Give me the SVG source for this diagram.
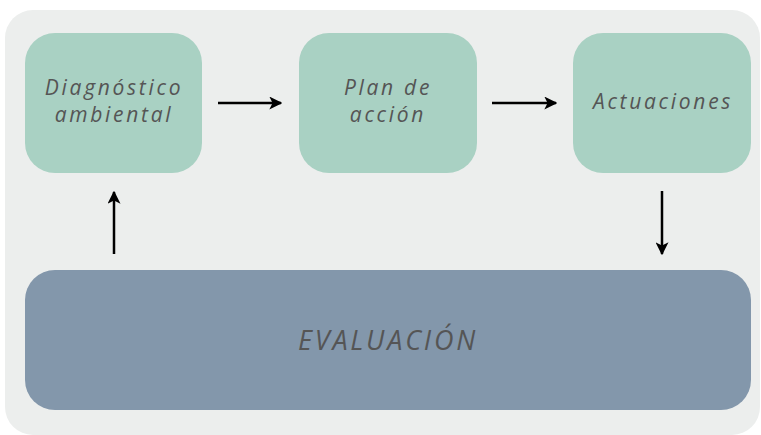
<svg xmlns="http://www.w3.org/2000/svg" width="761" height="435" viewBox="0 0 761 435">
<style>
.box{fill:#a9d1c3}
.lbl{font-family:"Open Sans","Liberation Sans",sans-serif;font-style:italic;fill:#555;font-size:21px;letter-spacing:2.7px;text-anchor:middle}
.ev{font-family:"Open Sans","Liberation Sans",sans-serif;font-style:italic;fill:#555;font-size:27px;letter-spacing:2.8px;text-anchor:middle}
.con{stroke:#000;stroke-width:2.5;fill:none;marker-end:url(#ah)}
</style>
<defs>
<marker id="ah" viewBox="0 0 10 10" refX="9" refY="5" markerWidth="5.2" markerHeight="5.2" orient="auto" markerUnits="strokeWidth">
<path d="M0,0 L10,5 L0,10 L2.5,5 Z" fill="#000"/>
</marker>
</defs>
<rect x="5" y="10" width="755" height="425" rx="28" fill="#eceeed"/>
<g id="diagnostico">
<rect class="box" x="25" y="33" width="177" height="140" rx="30"/>
<text class="lbl" x="114" y="95">Diagnóstico</text>
<text class="lbl" x="114" y="122">ambiental</text>
</g>
<g id="plan">
<rect class="box" x="299" y="33" width="178" height="140" rx="30"/>
<text class="lbl" x="388" y="95">Plan de</text>
<text class="lbl" x="388" y="122">acción</text>
</g>
<g id="actuaciones">
<rect class="box" x="573" y="33" width="178" height="140" rx="30"/>
<text class="lbl" x="663" y="109">Actuaciones</text>
</g>
<g id="evaluacion">
<rect x="25" y="270" width="726" height="140" rx="30" fill="#8397ab"/>
<text class="ev" x="388" y="350">EVALUACIÓN</text>
</g>
<g id="connectors">
<line class="con" x1="218" y1="103" x2="281" y2="103"/>
<line class="con" x1="492" y1="103" x2="556" y2="103"/>
<line class="con" x1="662" y1="191" x2="662" y2="254"/>
<line class="con" x1="114" y1="254" x2="114" y2="192"/>
</g>
</svg>
